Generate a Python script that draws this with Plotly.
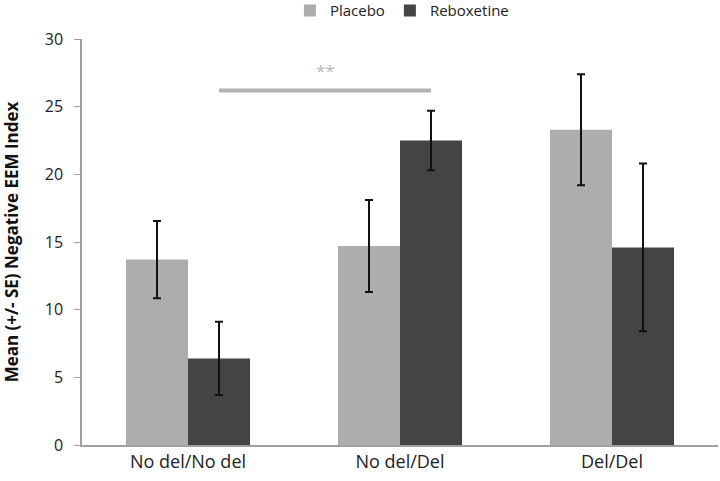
import plotly.graph_objects as go

categories = ["No del/No del", "No del/Del", "Del/Del"]
placebo = [13.7, 14.7, 23.3]
placebo_se = [2.85, 3.4, 4.1]
reboxetine = [6.4, 22.5, 14.6]
reboxetine_se = [2.7, 2.2, 6.2]
y_ticks = [0, 5, 10, 15, 20, 25, 30]
sig_value = 26.2
sig_label = "**"

fig = go.Figure()
fig.add_trace(go.Bar(
    name="Placebo", x=categories, y=placebo,
    marker=dict(color="#adadad", line=dict(width=0)),
    error_y=dict(type="data", array=placebo_se, color="#111111", thickness=2, width=4),
))
fig.add_trace(go.Bar(
    name="Reboxetine", x=categories, y=reboxetine,
    marker=dict(color="#444444", line=dict(width=0)),
    error_y=dict(type="data", array=reboxetine_se, color="#111111", thickness=2, width=4),
))

bargap = 0.415
offset = (1 - bargap) / 4
fig.add_shape(type="line", xref="x", yref="y",
              x0=0 + offset, x1=1 + offset, y0=sig_value, y1=sig_value,
              line=dict(color="#b3b3b3", width=4))
fig.add_annotation(x=0.5 + offset, y=sig_value, xref="x", yref="y",
                   text=sig_label, showarrow=False, yshift=20,
                   font=dict(size=17, color="#b8b8b8", family="Open Sans"))

fig.update_layout(
    width=720, height=481,
    margin=dict(l=82, r=2, t=39, b=36, autoexpand=False),
    paper_bgcolor="white", plot_bgcolor="white",
    barmode="group", bargap=bargap, bargroupgap=0,
    font=dict(family="Open Sans", size=14, color="#222222"),
    showlegend=True,
    legend=dict(orientation="h", x=0.503, xanchor="center", y=1.11, yanchor="top",
                font=dict(size=15, color="#222222"), itemwidth=30, traceorder="normal",
                bgcolor="rgba(0,0,0,0)"),
    xaxis=dict(showline=True, linecolor="#a0a0a0", linewidth=1.5, ticks="",
               showgrid=False, tickfont=dict(size=18, color="#222222"), automargin=False),
    yaxis=dict(range=[0, 30], tickvals=y_ticks, showline=True, linecolor="#a0a0a0",
               linewidth=1.5, ticks="outside", ticklen=6, tickcolor="#a0a0a0",
               showgrid=False, zeroline=False, tickfont=dict(size=16, color="#222222"),
               ticklabelstandoff=8, automargin=False,
               title=dict(text="<b>Mean (+/- SE) Negative EEM Index</b>",
                          font=dict(size=17, color="#111111"), standoff=22)),
)
post = ("document.body.style.margin='0px';document.body.style.padding='0px';"
        "var gd=document.getElementById('{plot_id}');"
        "Plotly.relayout(gd,{width:720,height:481});")
fig.write_html("out.html", post_script=post, config={"displayModeBar": False})
